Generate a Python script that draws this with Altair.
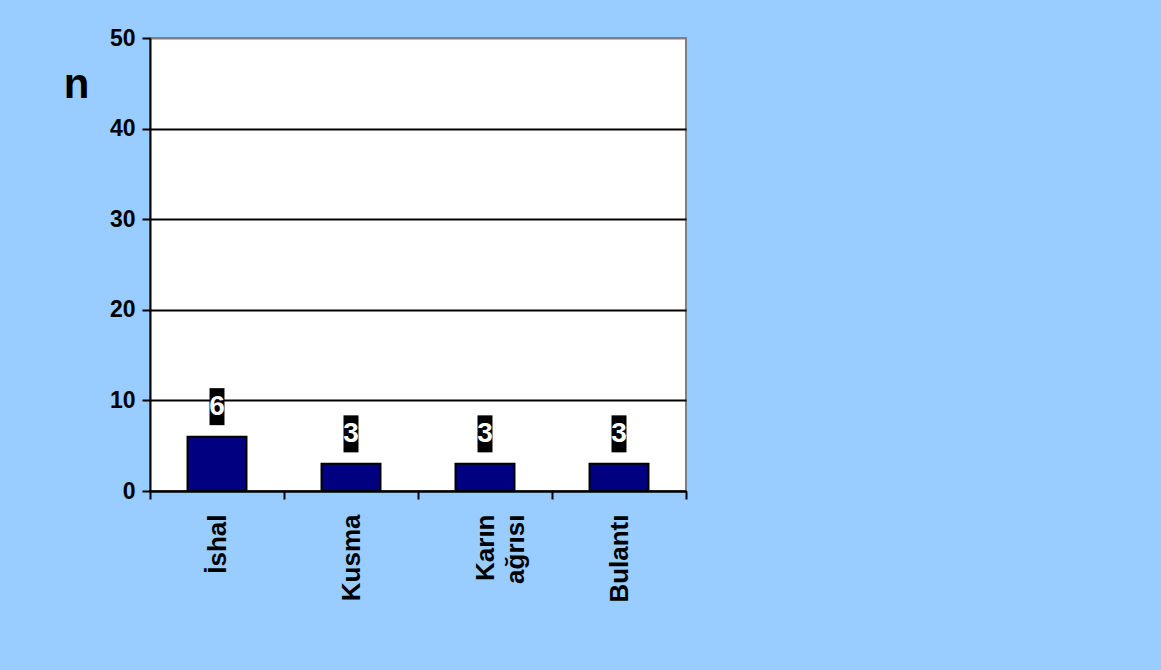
import altair as alt
import pandas as pd

# Symptom counts
categories = ["İshal", "Kusma", "Karın ağrısı", "Bulantı"]
counts = [6, 3, 3, 3]
y_ticks = [0, 10, 20, 30, 40, 50]

df = pd.DataFrame({"symptom": categories, "n": counts})

FONT = "Liberation Sans"
BG = "#99CCFF"

x_enc = alt.X(
    "symptom:N",
    sort=categories,
    scale=alt.Scale(paddingInner=0, paddingOuter=0),
    axis=alt.Axis(
        title=None,
        labelAngle=-90,
        labelFont=FONT,
        labelFontSize=26,
        labelFontWeight="bold",
        labelColor="black",
        labelPadding=15,
        labelLimit=0,
        labelExpr="split(datum.label, ' ')",
        labelLineHeight=30,
        tickBand="extent",
        tickSize=8,
        tickWidth=2,
        tickColor="black",
        domainColor="black",
        domainWidth=2,
        grid=False,
    ),
)

y_enc = alt.Y(
    "n:Q",
    scale=alt.Scale(domain=[0, 50], nice=False),
    axis=alt.Axis(
        values=y_ticks,
        title="n",
        titleAngle=0,
        titleX=-74,
        titleY=46,
        titleFont=FONT,
        titleFontSize=42,
        titleFontWeight="bold",
        titleColor="black",
        titleAlign="center",
        titleBaseline="middle",
        labelFont=FONT,
        labelFontSize=23,
        labelFontWeight="bold",
        labelColor="black",
        labelPadding=7,
        tickSize=8,
        tickWidth=2,
        tickColor="black",
        domainColor="black",
        domainWidth=2,
        gridColor=alt.condition("datum.value == 50", alt.value("#808080"), alt.value("black")),
        gridWidth=2,
    ),
)

base = alt.Chart(df)

bars = base.mark_bar(
    color="#000080", stroke="black", strokeWidth=2, width=alt.RelativeBandSize(0.44)
).encode(x=x_enc, y=y_enc)

# black tag behind each value label, sitting just above the bar
tag_shape = "M-0.405,-2.62 L0.405,-2.62 L0.405,-0.62 L-0.405,-0.62 Z"
tags = base.mark_point(
    shape=tag_shape, size=1369, filled=True, color="black", opacity=1, strokeWidth=0
).encode(x=x_enc, y=y_enc)

values = base.mark_text(
    dy=-30, font=FONT, fontSize=28, fontWeight="bold", color="white", baseline="middle"
).encode(x=x_enc, y=y_enc, text="n:Q")

chart = (
    alt.layer(bars, tags, values)
    .properties(
        width=536,
        height=453,
        background=BG,
        padding={"left": 150, "top": 38, "right": 475, "bottom": 179},
        autosize=alt.AutoSizeParams(type="none"),
    )
    .configure_view(stroke="#808080", strokeWidth=2, fill="white")
)

chart.save("out.html", embed_options={"renderer": "svg", "actions": False})
